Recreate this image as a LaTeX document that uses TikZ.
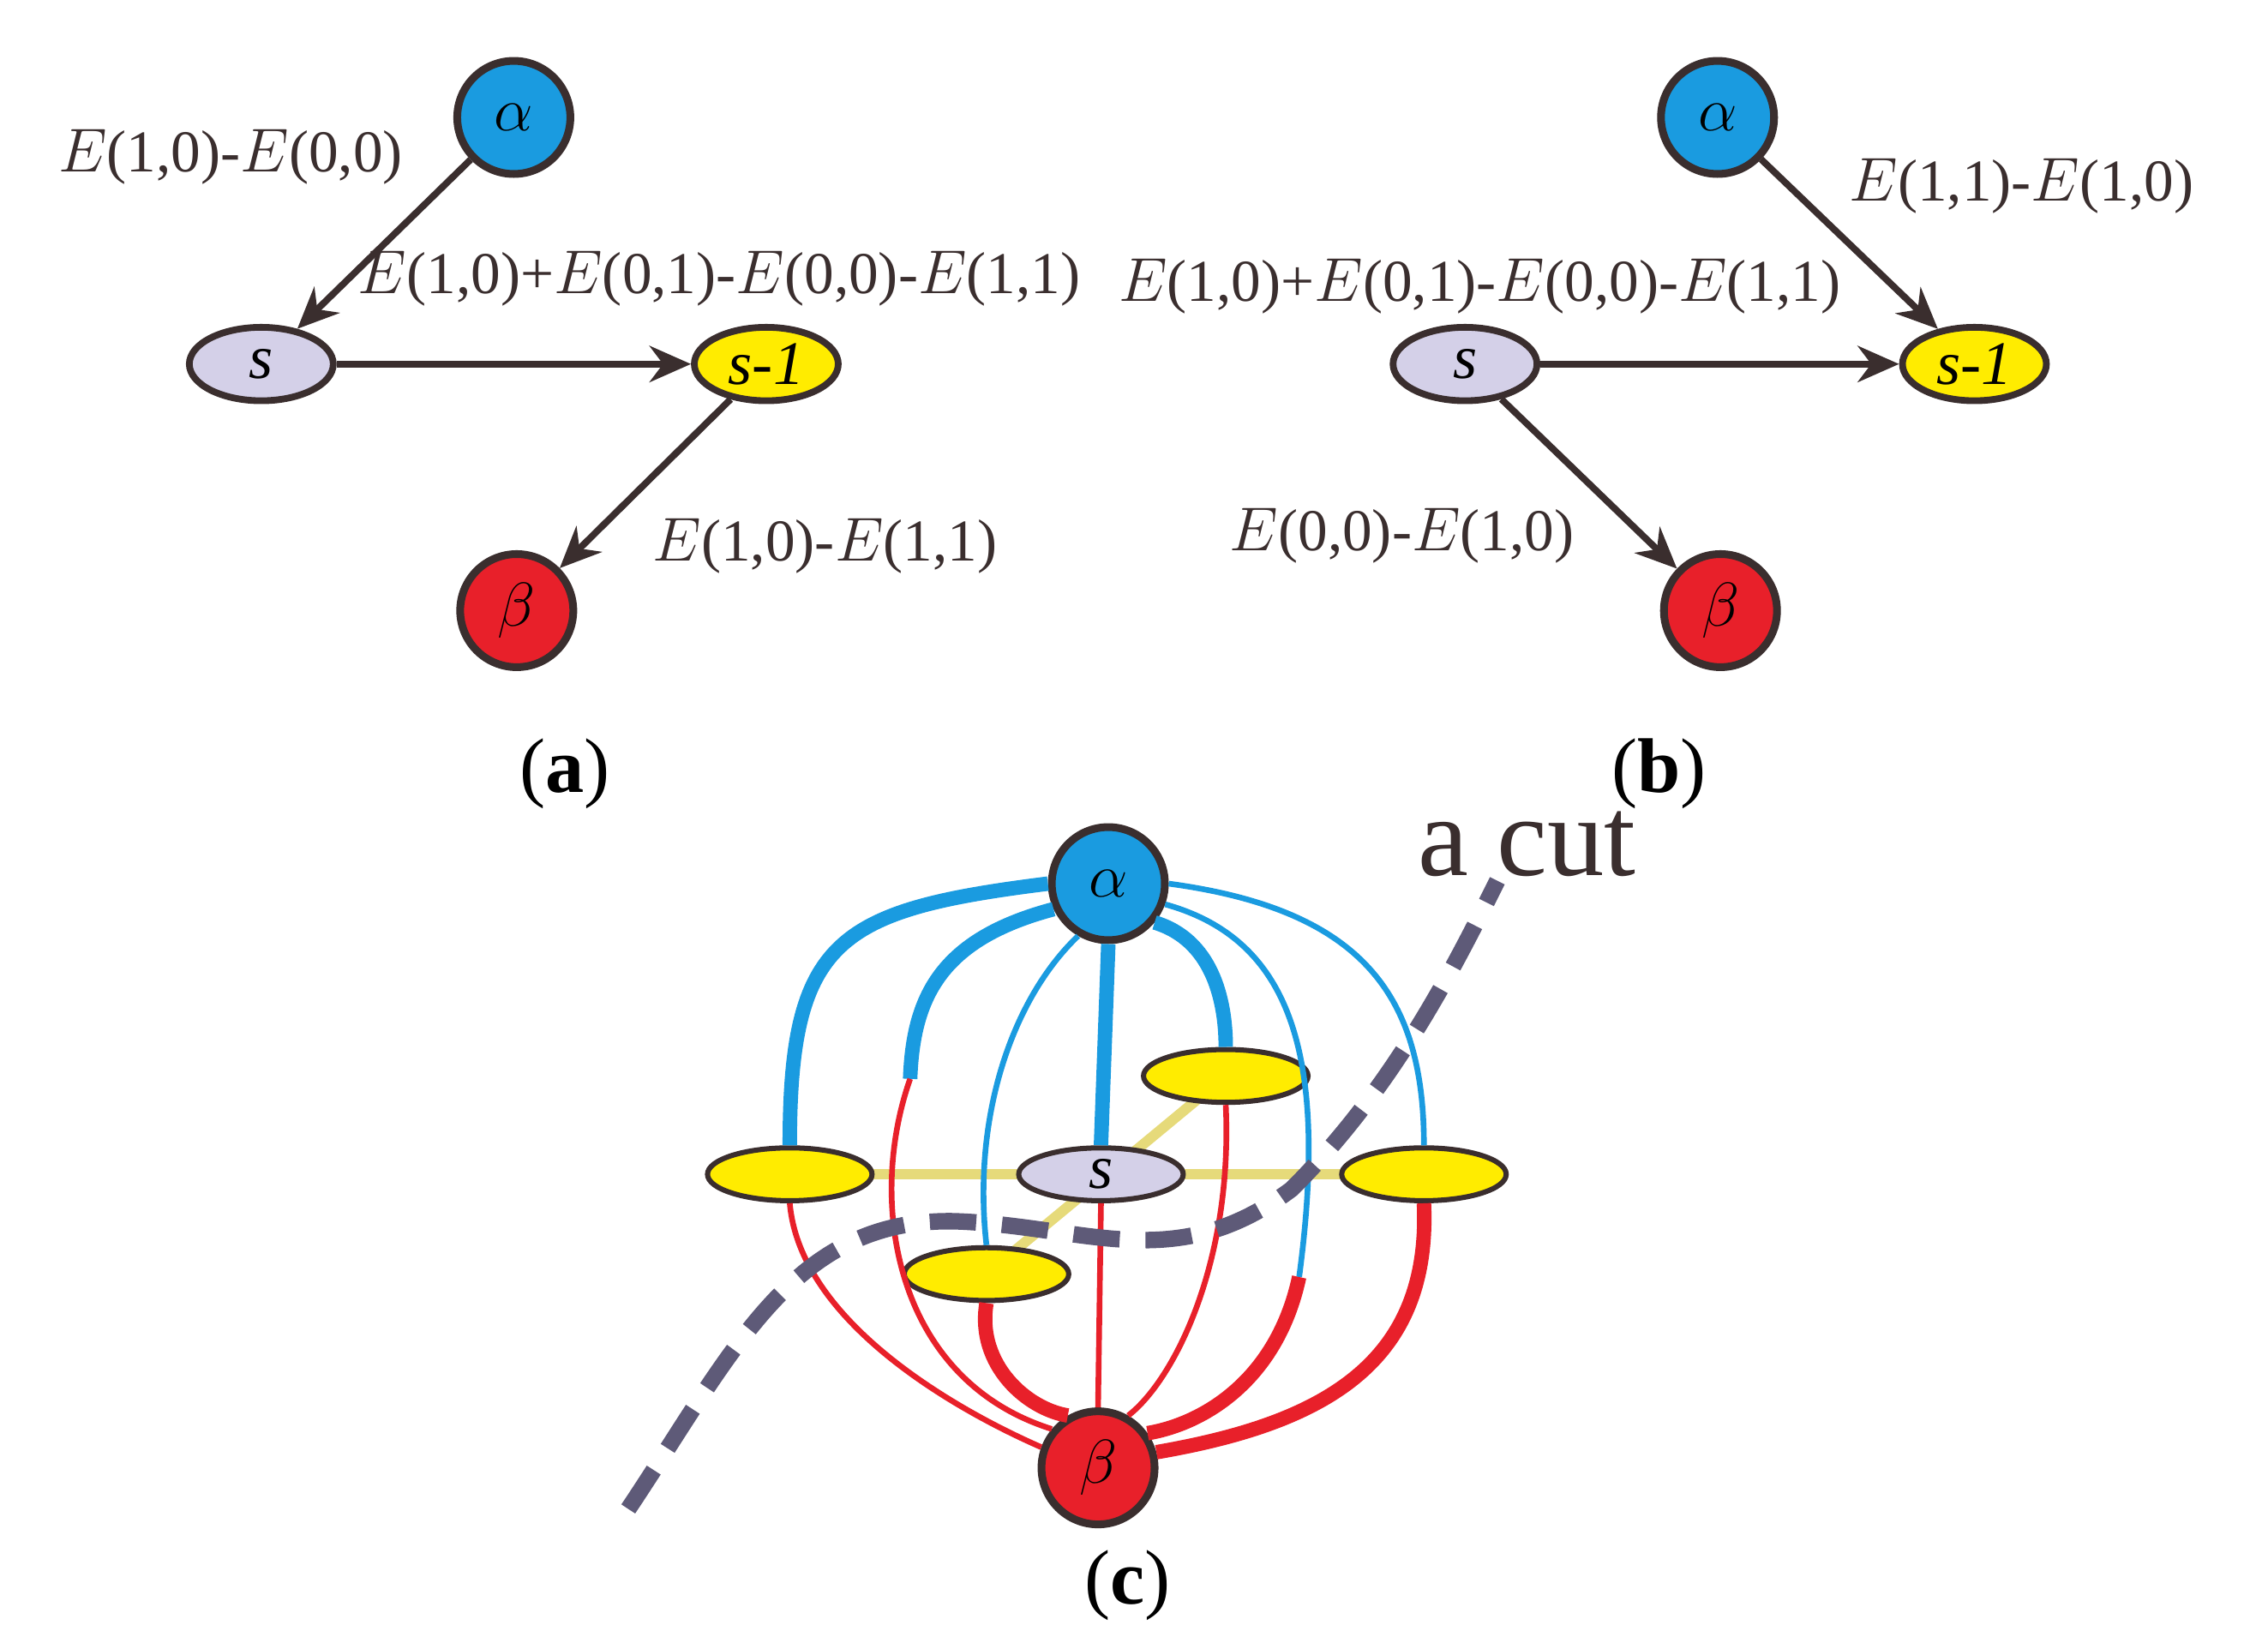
\documentclass[tikz,border=0pt]{standalone}
\usepackage{fontspec}
\setmainfont{Liberation Serif}
\usetikzlibrary{shapes.geometric,arrows.meta}
\definecolor{nblue}{HTML}{1A9BE0}
\definecolor{nred}{HTML}{E8202A}
\definecolor{nlav}{HTML}{D4D0E8}
\definecolor{nyel}{HTML}{FFEC00}
\definecolor{arr}{HTML}{3A2E2E}
\definecolor{cutc}{HTML}{5E5A78}
\definecolor{ylink}{HTML}{E6DA7A}
\tikzset{
  term/.style={circle,draw=arr,line width=1.5pt,minimum size=0.77cm,inner sep=0pt,font=\large},
  site/.style={ellipse,draw=arr,line width=1.3pt,minimum width=0.98cm,minimum height=0.5cm,inner sep=0pt,font=\large\itshape},
  cell/.style={ellipse,draw=arr,line width=1pt,minimum width=1.12cm,minimum height=0.36cm,inner sep=0pt,font=\large\itshape},
  flow/.style={-{Stealth[length=8pt,width=7pt]},draw=arr,line width=1.3pt},
  lab/.style={font=\fontsize{11.5}{13}\selectfont,text=arr},
  subcap/.style={font=\fontsize{15}{18}\selectfont},
  bt/.style={nblue,line width=2.8pt},
  bn/.style={nblue,line width=1.1pt},
  rt/.style={nred,line width=2.8pt},
  rn/.style={nred,line width=1.1pt}
}
\begin{document}
\begin{tikzpicture}[x=0.01cm,y=-0.01cm]
    \useasboundingbox (0,0) rectangle (1545,1115);

    % (a)
    \node[term,fill=nblue] (aA) at (350,80) {$\alpha$};
    \node[site,fill=nlav] (aS) at (178,248) {s};
    \node[site,fill=nyel] (aT) at (522,248) {s-1};
    \node[term,fill=nred] (aB) at (352,416) {$\beta$};
    \draw[flow] (aA) -- (aS);
    \draw[flow] (aS) -- (aT);
    \draw[flow] (aT) -- (aB);
    \node[lab] at (157,107) {$E$(1,0)-$E$(0,0)};
    \node[lab] at (490,190) {$E$(1,0)+$E$(0,1)-$E$(0,0)-$E$(1,1)};
    \node[lab] at (562,372) {$E$(1,0)-$E$(1,1)};
    \node[subcap] at (385,527) {(\textbf{a})};

    % (b)
    \node[term,fill=nblue] (bA) at (1170,80) {$\alpha$};
    \node[site,fill=nlav] (bS) at (998,248) {s};
    \node[site,fill=nyel] (bT) at (1345,248) {s-1};
    \node[term,fill=nred] (bB) at (1172,416) {$\beta$};
    \draw[flow] (bA) -- (bT);
    \draw[flow] (bS) -- (bT);
    \draw[flow] (bS) -- (bB);
    \node[lab] at (1377,127) {$E$(1,1)-$E$(1,0)};
    \node[lab] at (1008,195) {$E$(1,0)+$E$(0,1)-$E$(0,0)-$E$(1,1)};
    \node[lab] at (955,365) {$E$(0,0)-$E$(1,0)};
    \node[subcap] at (1130,527) {(\textbf{b})};

    % (c)
    \coordinate (k2) at (620,735);
    \coordinate (k6) at (885,870);
    \coordinate (pL) at (538,800);
    \coordinate (pR) at (970,800);
    \coordinate (pU) at (835,733);
    \coordinate (pD) at (672,868);
    \draw[ylink,line width=2pt] (pL) -- (pR);
    \draw[ylink,line width=2pt] (pD) -- (pU);
    \node[cell,fill=nyel] (cL) at (pL) {};
    \node[cell,fill=nyel] (cR) at (pR) {};
    \node[cell,fill=nyel] (cU) at (pU) {};
    \node[cell,fill=nlav] (cS) at (750,800) {s};
    \node[cell,fill=nyel] (cD) at (pD) {};
    \node[term,fill=nblue] (cA) at (755,602) {$\alpha$};
    \node[term,fill=nred] (cB) at (748,1000) {$\beta$};

    \draw[bt] (cA.west) .. controls (570,620) and (538,640) .. (cL.north);
    \draw[bt] (cA.205) .. controls (640,640) and (622,680) .. (k2);
    \draw[bn] (cA.240) .. controls (690,680) and (662,760) .. (cD.north);
    \draw[bt] (cA.south) -- (cS.north);
    \draw[bt] (cA.320) .. controls (825,640) and (835,680) .. (cU.north);
    \draw[bn] (cA.340) .. controls (880,640) and (905,720) .. (k6);
    \draw[bn] (cA.east) .. controls (930,620) and (970,680) .. (cR.north);

    \draw[rn] (cL.south) .. controls (545,900) and (650,960) .. (cB.160);
    \draw[rn] (k2) .. controls (590,820) and (610,940) .. (cB.140);
    \draw[rt] (cD.south) .. controls (665,930) and (700,960) .. (cB.120);
    \draw[rn] (cS.south) -- (cB.north);
    \draw[rn] (cU.south) .. controls (840,860) and (800,940) .. (cB.60);
    \draw[rt] (k6) .. controls (870,940) and (820,970) .. (cB.35);
    \draw[rt] (cR.south) .. controls (975,930) and (900,970) .. (cB.15);

    \draw[cutc,line width=3.2pt,dash pattern=on 9pt off 5pt]
        (428,1028) .. controls (500,920) and (540,830) .. (650,832)
        .. controls (740,835) and (800,870) .. (880,810)
        .. controls (950,740) and (990,660) .. (1020,600);
    \node[font=\fontsize{22}{26}\selectfont,text=arr] at (1040,575) {a cut};
    \node[subcap] at (768,1080) {(\textbf{c})};
\end{tikzpicture}
\end{document}
